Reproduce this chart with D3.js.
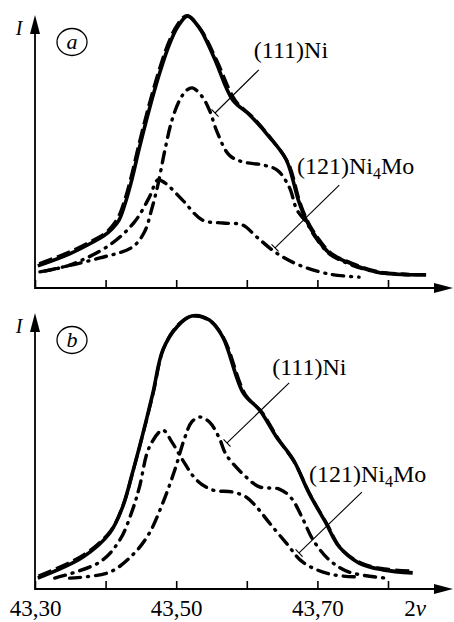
<!DOCTYPE html>
<html>
<head>
<meta charset="utf-8">
<script src="https://cdn.jsdelivr.net/npm/d3@7"></script>
<style>
  html, body { margin: 0; padding: 0; background: #fff; }
  svg { display: block; }
  text { font-family: "Liberation Serif", "DejaVu Serif", serif; fill: #000; }
</style>
</head>
<body>
<div id="graph"></div>
<script>
// x axis: 2v, ticks and labels
var xTicks = [43.30, 43.40, 43.50, 43.60, 43.70, 43.80];
var xTickLabels = ["43,30", "", "43,50", "", "43,70", ""];

// panel a : [2v, I]  (I = relative intensity, max = 100)
var aTotal = [[43.304, 8.1], [43.349, 12.5], [43.385, 17.2], [43.398, 19.2], [43.409, 21.6], [43.419, 24.9],
  [43.427, 30.4], [43.436, 38.5], [43.448, 51.5], [43.462, 65.6], [43.476, 78.3], [43.490, 89.0],
  [43.502, 95.6], [43.516, 99.6], [43.533, 95.2],
  [43.554, 84.2], [43.580, 68.9], [43.604, 63.4], [43.632, 55.3], [43.656, 46.9], [43.673, 32.2],
  [43.684, 24.9], [43.698, 18.7], [43.717, 12.8], [43.745, 9.2], [43.783, 5.9], [43.854, 4.8]];
var aSum = [[43.306, 8.9], [43.350, 13.3], [43.386, 18.0], [43.399, 20.0], [43.409, 22.6], [43.418, 26.0],
  [43.426, 31.4], [43.435, 39.5], [43.447, 52.5], [43.461, 66.6], [43.475, 79.2], [43.489, 89.8],
  [43.501, 96.2], [43.515, 99.8], [43.535, 94.6],
  [43.557, 83.6], [43.584, 68.6], [43.610, 62.2], [43.636, 54.2], [43.659, 45.6], [43.675, 31.6],
  [43.686, 24.6], [43.700, 18.6], [43.720, 12.6], [43.748, 9.2], [43.786, 6.0], [43.830, 5.0]];
var aNi = [[43.314, 6.2], [43.392, 11.0], [43.438, 15.0], [43.455, 20.5], [43.465, 28.6], [43.474, 37.7],
  [43.484, 50.5], [43.494, 61.5], [43.505, 68.9], [43.515, 72.5], [43.523, 73.3], [43.537, 70.0],
  [43.547, 65.2], [43.558, 57.1], [43.575, 48.7], [43.594, 46.2], [43.622, 45.1], [43.643, 43.2],
  [43.660, 37.0], [43.671, 28.6], [43.684, 24.2], [43.698, 18.3], [43.717, 12.5], [43.745, 8.8],
  [43.783, 5.9], [43.830, 4.8]];
var aNi4Mo = [[43.307, 5.9], [43.349, 8.4], [43.406, 15.8], [43.441, 24.2], [43.462, 33.3], [43.474, 39.6],
  [43.484, 38.5], [43.509, 32.2], [43.537, 24.9], [43.566, 23.8], [43.594, 23.1], [43.614, 18.7],
  [43.642, 12.8], [43.674, 8.4], [43.717, 5.1], [43.759, 4.0]];

// panel b
var bTotal = [[43.304, 4.0], [43.368, 11.7], [43.406, 20.5], [43.424, 30.0], [43.438, 42.5], [43.453, 57.1],
  [43.467, 71.8], [43.481, 87.5], [43.501, 96.0], [43.522, 100], [43.547, 98.5], [43.566, 92.3],
  [43.595, 71.8], [43.618, 65.6], [43.642, 55.7], [43.666, 47.3], [43.688, 35.2], [43.712, 24.2],
  [43.731, 15.4], [43.759, 9.5], [43.793, 7.0], [43.835, 5.9]];
var bSum = [[43.305, 4.8], [43.369, 12.5], [43.407, 21.3], [43.425, 30.8], [43.439, 43.3], [43.454, 57.9],
  [43.468, 72.4], [43.482, 88.0], [43.502, 96.6], [43.523, 100], [43.548, 98.2], [43.568, 91.6],
  [43.598, 71.2], [43.622, 64.6], [43.645, 54.8], [43.668, 46.2], [43.690, 34.4], [43.714, 23.6],
  [43.733, 15.0], [43.761, 9.6], [43.795, 7.4], [43.835, 6.6]];
var bNi = [[43.349, 4.0], [43.406, 6.2], [43.441, 13.2], [43.462, 20.5], [43.481, 31.5], [43.498, 43.6],
  [43.512, 55.3], [43.522, 61.2], [43.533, 63.0], [43.547, 61.2], [43.561, 55.3], [43.571, 49.1],
  [43.599, 41.0], [43.618, 37.4], [43.646, 36.6], [43.663, 33.3], [43.680, 25.3], [43.694, 17.9],
  [43.717, 10.6], [43.745, 6.2], [43.797, 4.0]];
var bNi4Mo = [[43.328, 4.0], [43.392, 9.9], [43.420, 17.9], [43.438, 28.9], [43.448, 37.4], [43.462, 52.0],
  [43.481, 58.2], [43.494, 53.8], [43.509, 47.3], [43.529, 39.9], [43.551, 36.3], [43.580, 35.5],
  [43.599, 33.7], [43.614, 30.0], [43.632, 24.2], [43.656, 16.8], [43.679, 9.9], [43.717, 5.5],
  [43.759, 4.4]];

// annotations: text anchor [2v, I] and leader line from -> to
var panels = [
  { id: "a", base: 288, top: 15, arrowTip: 15,
    total: aTotal, sum: aSum, ni: aNi, ni4mo: aNi4Mo,
    niLabel: [43.610, 84.2], niLine: [[43.617, 79.9], [43.555, 64.1]],
    moLabel: [43.671, 41.8], moLine: [[43.731, 37.7], [43.640, 14.7]] },
  { id: "b", base: 589, top: 316, arrowTip: 313,
    total: bTotal, sum: bSum, ni: bNi, ni4mo: bNi4Mo,
    niLabel: [43.636, 78.4], niLine: [[43.660, 75.5], [43.572, 53.5]],
    moLabel: [43.688, 39.2], moLine: [[43.763, 35.5], [43.674, 13.2]] }
];

var width = 454, height = 622;
var x0 = 35;

var svg = d3.select("#graph").append("svg")
  .attr("width", width).attr("height", height);

var xScale = d3.scaleLinear().domain([43.30, 43.80]).range([x0, 388]);

panels.forEach(function(p, i) {
  var yScale = d3.scaleLinear().domain([0, 100]).range([p.base, p.top]);
  var g = svg.append("g").attr("class", "panel " + p.id);

  // x axis (ticks point up)
  var xAxis = d3.axisBottom(xScale)
    .tickValues(xTicks)
    .tickSizeInner(-8)
    .tickSizeOuter(0)
    .tickPadding(11)
    .tickFormat(function(d) {
      return i === 1 ? xTickLabels[xTicks.indexOf(d)] : "";
    });
  var ax = g.append("g")
    .attr("transform", "translate(0," + p.base + ")")
    .call(xAxis);
  ax.select(".domain").remove();
  ax.selectAll(".tick line").attr("stroke", "#000").attr("stroke-width", 1.6);
  ax.selectAll(".tick text").attr("font-size", 23).attr("font-family", "Liberation Serif");

  g.append("line")
    .attr("x1", x0).attr("x2", 440).attr("y1", p.base).attr("y2", p.base)
    .attr("stroke", "#000").attr("stroke-width", 1.8);
  g.append("path")
    .attr("d", "M453," + p.base + "L434," + (p.base - 5) + "L434," + (p.base + 5) + "Z")
    .attr("fill", "#000");

  // y axis with arrow
  g.append("line")
    .attr("x1", x0).attr("x2", x0).attr("y1", p.base + 1).attr("y2", p.arrowTip + 12)
    .attr("stroke", "#000").attr("stroke-width", 1.8);
  g.append("path")
    .attr("d", "M" + x0 + "," + p.arrowTip + "L" + (x0 - 5) + "," + (p.arrowTip + 19) + "L" + (x0 + 5) + "," + (p.arrowTip + 19) + "Z")
    .attr("fill", "#000");
  g.append("text")
    .attr("x", 19).attr("y", p.arrowTip + 20)
    .attr("text-anchor", "middle")
    .attr("font-size", 20).attr("font-style", "italic")
    .text("I");

  // panel letter in ellipse
  g.append("ellipse")
    .attr("cx", 72).attr("cy", p.arrowTip + 27)
    .attr("rx", 15).attr("ry", 13.5)
    .attr("fill", "none").attr("stroke", "#000").attr("stroke-width", 1.3);
  g.append("text")
    .attr("x", 72).attr("y", p.arrowTip + 34)
    .attr("text-anchor", "middle")
    .attr("font-size", 22).attr("font-style", "italic")
    .text(p.id);

  var line = d3.line()
    .x(function(d) { return xScale(d[0]); })
    .y(function(d) { return yScale(d[1]); })
    .curve(d3.curveCatmullRom.alpha(0.5));

  // components (dash-dot)
  [p.ni, p.ni4mo].forEach(function(s) {
    g.append("path").datum(s)
      .attr("d", line)
      .attr("fill", "none").attr("stroke", "#000")
      .attr("stroke-width", 3.4)
      .attr("stroke-linecap", "round")
      .attr("stroke-dasharray", "11,7,1,7");
  });

  // measured profile (solid) and calculated sum (dashed)
  g.append("path").datum(p.total)
    .attr("d", line)
    .attr("fill", "none").attr("stroke", "#000").attr("stroke-width", 3.6);
  g.append("path").datum(p.sum)
    .attr("d", line)
    .attr("fill", "none").attr("stroke", "#000").attr("stroke-width", 3.2)
    .attr("stroke-dasharray", "14,5");

  // labels with leader lines
  [[p.niLabel, p.niLine, false], [p.moLabel, p.moLine, true]].forEach(function(l) {
    var a = [xScale(l[1][0][0]), yScale(l[1][0][1])];
    var b = [xScale(l[1][1][0]), yScale(l[1][1][1])];
    g.append("line")
      .attr("x1", a[0]).attr("y1", a[1]).attr("x2", b[0]).attr("y2", b[1])
      .attr("stroke", "#000").attr("stroke-width", 1.1);
    // short cross tick at the curve end
    var dx = b[0] - a[0], dy = b[1] - a[1], len = Math.sqrt(dx * dx + dy * dy);
    var nx = -dy / len * 5, ny = dx / len * 5;
    g.append("line")
      .attr("x1", b[0] - nx).attr("y1", b[1] - ny).attr("x2", b[0] + nx).attr("y2", b[1] + ny)
      .attr("stroke", "#000").attr("stroke-width", 1.1);

    var t = g.append("text")
      .attr("x", xScale(l[0][0])).attr("y", yScale(l[0][1]))
      .attr("font-size", 24);
    if (l[2]) {
      t.append("tspan").text("(121)Ni");
      t.append("tspan").attr("font-size", 16).attr("dy", 5).text("4");
      t.append("tspan").attr("dy", -5).text("Mo");
    } else {
      t.text("(111)Ni");
    }
  });

  if (i === 1) {
    g.append("text")
      .attr("x", 415).attr("y", 616)
      .attr("text-anchor", "middle")
      .attr("font-size", 23)
      .html("2<tspan font-style=\"italic\">&#957;</tspan>");
  }
});
</script>
</body>
</html>
